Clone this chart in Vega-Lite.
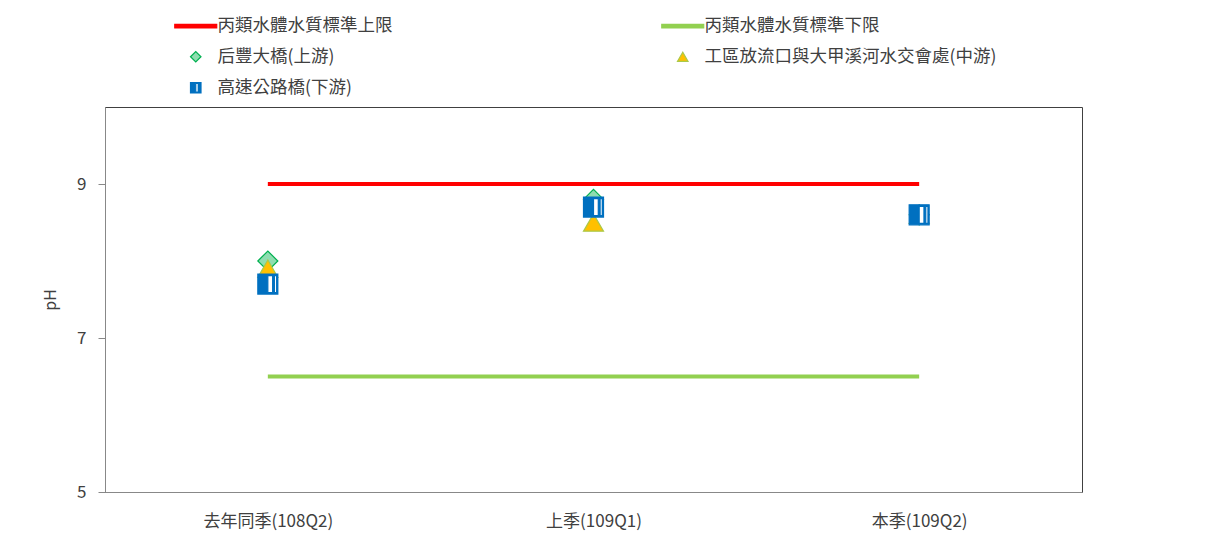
{
  "$schema": "https://vega.github.io/schema/vega-lite/v6.json",
  "width": 977,
  "height": 385,
  "autosize": "none",
  "padding": {"left": 105, "top": 107, "right": 129, "bottom": 57},
  "background": "white",
  "config": {
    "font": "Noto Sans CJK TC",
    "view": {"stroke": "#404040", "strokeWidth": 1},
    "legend": {
      "orient": "none",
      "legendX": 82,
      "legendY": -90,
      "columns": 2,
      "columnPadding": 266,
      "rowPadding": 12,
      "symbolSize": 110,
      "labelOffset": 13,
      "labelFontSize": 17.5,
      "labelColor": "#404040",
      "symbolStrokeWidth": 1.2,
      "labelLimit": 0,
      "padding": 0
    }
  },
  "data": {
    "values": [
      {"q": "去年同季(108Q2)", "s": "丙類水體水質標準上限", "t": "line", "v": 9},
      {"q": "上季(109Q1)", "s": "丙類水體水質標準上限", "t": "line", "v": 9},
      {"q": "本季(109Q2)", "s": "丙類水體水質標準上限", "t": "line", "v": 9},
      {"q": "去年同季(108Q2)", "s": "丙類水體水質標準下限", "t": "line", "v": 6.5},
      {"q": "上季(109Q1)", "s": "丙類水體水質標準下限", "t": "line", "v": 6.5},
      {"q": "本季(109Q2)", "s": "丙類水體水質標準下限", "t": "line", "v": 6.5},
      {"q": "去年同季(108Q2)", "s": "后豐大橋(上游)", "t": "point", "v": 8.0},
      {"q": "上季(109Q1)", "s": "后豐大橋(上游)", "t": "point", "v": 8.8},
      {"q": "本季(109Q2)", "s": "后豐大橋(上游)", "t": "point", "v": 8.6},
      {"q": "去年同季(108Q2)", "s": "工區放流口與大甲溪河水交會處(中游)", "t": "point", "v": 7.9},
      {"q": "上季(109Q1)", "s": "工區放流口與大甲溪河水交會處(中游)", "t": "point", "v": 8.5},
      {"q": "本季(109Q2)", "s": "工區放流口與大甲溪河水交會處(中游)", "t": "point", "v": 8.6},
      {"q": "去年同季(108Q2)", "s": "高速公路橋(下游)", "t": "square", "v": 7.7},
      {"q": "上季(109Q1)", "s": "高速公路橋(下游)", "t": "square", "v": 8.7},
      {"q": "本季(109Q2)", "s": "高速公路橋(下游)", "t": "square", "v": 8.6}
    ]
  },
  "encoding": {
    "x": {
      "field": "q",
      "type": "nominal",
      "sort": ["去年同季(108Q2)", "上季(109Q1)", "本季(109Q2)"],
      "scale": {"type": "point", "padding": 0.5},
      "axis": {
        "title": null,
        "labelAngle": 0,
        "labelFontSize": 17,
        "labelColor": "#404040",
        "labelPadding": 21,
        "ticks": false,
        "domainColor": "#888888"
      }
    },
    "y": {
      "field": "v",
      "type": "quantitative",
      "scale": {"domain": [5, 10], "nice": false, "zero": false},
      "axis": {
        "title": "pH",
        "values": [5, 7, 9],
        "grid": false,
        "domainColor": "#888888",
        "tickColor": "#888888",
        "tickSize": 7,
        "labelPadding": 12,
        "labelFontSize": 17,
        "labelColor": "#404040",
        "titleFontSize": 16,
        "titleFontWeight": "normal",
        "titleColor": "#404040",
        "titlePadding": 18
      }
    }
  },
  "layer": [
    {
      "transform": [{"filter": "datum.t == 'point'"}],
      "mark": {"type": "point", "filled": true, "size": 400, "strokeWidth": 1.2, "opacity": 1},
      "encoding": {
        "fill": {
          "field": "s",
          "type": "nominal",
          "scale": {
            "domain": ["丙類水體水質標準上限", "后豐大橋(上游)", "高速公路橋(下游)", "丙類水體水質標準下限", "工區放流口與大甲溪河水交會處(中游)"],
            "range": ["#FF0000", "#8FDDB0", "#0070C0", "#92D050", "#FFC000"]
          },
          "legend": {"title": null}
        },
        "stroke": {
          "field": "s",
          "type": "nominal",
          "scale": {
            "domain": ["丙類水體水質標準上限", "后豐大橋(上游)", "高速公路橋(下游)", "丙類水體水質標準下限", "工區放流口與大甲溪河水交會處(中游)"],
            "range": ["#FF0000", "#00B050", "#0070C0", "#92D050", "#A9C94A"]
          },
          "legend": {"title": null}
        },
        "shape": {
          "field": "s",
          "type": "nominal",
          "scale": {
            "domain": ["丙類水體水質標準上限", "后豐大橋(上游)", "高速公路橋(下游)", "丙類水體水質標準下限", "工區放流口與大甲溪河水交會處(中游)"],
            "range": ["M-4,-0.35H4V0.35H-4Z", "diamond", "M-1,-1H1V1H-1Z M0.0,-0.85V0.85H0.48V-0.85Z M0.66,-0.85V0.85H0.88V-0.85Z", "M-4,-0.35H4V0.35H-4Z", "triangle-up"]
          },
          "legend": {"title": null}
        }
      }
    },
    {
      "transform": [{"filter": "datum.t == 'square'"}],
      "mark": {"type": "point", "shape": "square", "filled": true, "size": 380, "fill": "#FFFFFF", "strokeWidth": 0, "opacity": 1},
      "encoding": {}
    },
    {
      "transform": [{"filter": "datum.t == 'square'"}],
      "mark": {"type": "point", "filled": true, "size": 400, "strokeWidth": 1.2, "opacity": 1},
      "encoding": {
        "fill": {
          "field": "s",
          "type": "nominal",
          "scale": {
            "domain": ["丙類水體水質標準上限", "后豐大橋(上游)", "高速公路橋(下游)", "丙類水體水質標準下限", "工區放流口與大甲溪河水交會處(中游)"],
            "range": ["#FF0000", "#8FDDB0", "#0070C0", "#92D050", "#FFC000"]
          },
          "legend": {"title": null}
        },
        "stroke": {
          "field": "s",
          "type": "nominal",
          "scale": {
            "domain": ["丙類水體水質標準上限", "后豐大橋(上游)", "高速公路橋(下游)", "丙類水體水質標準下限", "工區放流口與大甲溪河水交會處(中游)"],
            "range": ["#FF0000", "#00B050", "#0070C0", "#92D050", "#A9C94A"]
          },
          "legend": {"title": null}
        },
        "shape": {
          "field": "s",
          "type": "nominal",
          "scale": {
            "domain": ["丙類水體水質標準上限", "后豐大橋(上游)", "高速公路橋(下游)", "丙類水體水質標準下限", "工區放流口與大甲溪河水交會處(中游)"],
            "range": ["M-4,-0.35H4V0.35H-4Z", "diamond", "M-1,-1H1V1H-1Z M0.0,-0.85V0.85H0.48V-0.85Z M0.66,-0.85V0.85H0.88V-0.85Z", "M-4,-0.35H4V0.35H-4Z", "triangle-up"]
          },
          "legend": {"title": null}
        }
      }
    },
    {
      "transform": [{"filter": "datum.t == 'line'"}],
      "mark": {"type": "line", "strokeWidth": 4},
      "encoding": {
        "stroke": {
          "field": "s",
          "type": "nominal",
          "scale": {
            "domain": ["丙類水體水質標準上限", "后豐大橋(上游)", "高速公路橋(下游)", "丙類水體水質標準下限", "工區放流口與大甲溪河水交會處(中游)"],
            "range": ["#FF0000", "#00B050", "#0070C0", "#92D050", "#A9C94A"]
          },
          "legend": null
        }
      }
    }
  ]
}
